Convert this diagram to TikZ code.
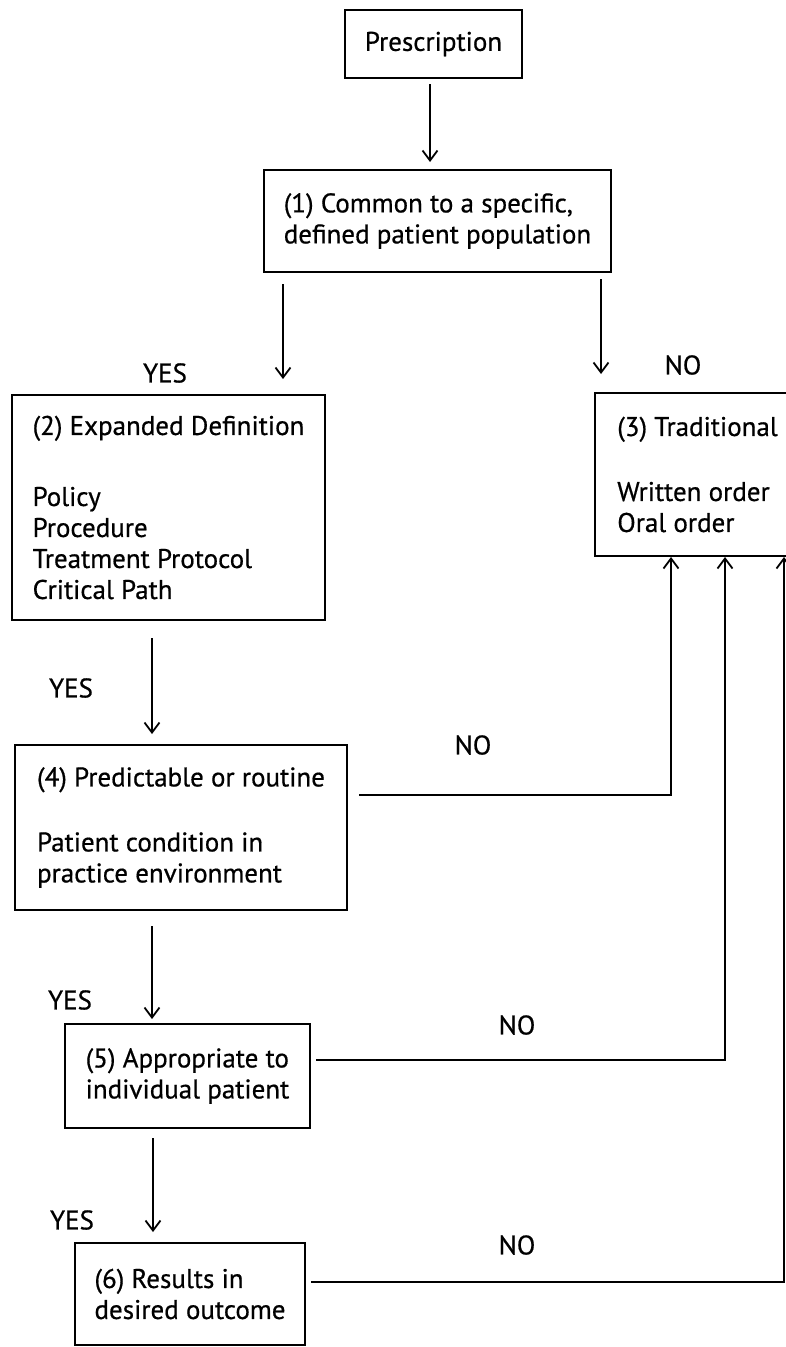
\documentclass[tikz,border=0pt]{standalone}
\usepackage{fontspec}
\setmainfont{PT Sans}[FakeBold=0.6]
\usetikzlibrary{arrows.meta}

\begin{document}
\begin{tikzpicture}[x=1pt, y=-1pt, line width=2pt,
    box/.style={draw, rectangle, align=left, inner sep=0pt, font=\fontsize{27}{31}\selectfont},
    lbl/.style={font=\fontsize{27}{31}\selectfont},
    arr/.style={-{Straight Barb[length=10pt,width=15pt,line width=1.8pt]}}]
  \useasboundingbox (0,0) rectangle (786,1347);
  \clip (0,0) rectangle (786,1347);
  \node[box, minimum width=177pt, minimum height=68pt] (pre) at (433.5,44) {Prescription};
  \node[box, minimum width=347pt, minimum height=102pt] (b1) at (437.5,221) {(1) Common to a specific,\\defined patient population};
  \node[box, minimum width=313pt, minimum height=225pt] (b2) at (168.5,507.5) {(2) Expanded Definition\\[40pt]Policy\\Procedure\\Treatment Protocol\\Critical Path};
  \node[box, minimum width=205pt, minimum height=163pt] (b3) at (697.5,474.5) {(3) Traditional\\[34pt]Written order\\Oral order};
  \node[box, minimum width=332pt, minimum height=165pt] (b4) at (181,827.5) {(4) Predictable or routine\\[34pt]Patient condition in\\practice environment};
  \node[box, minimum width=245pt, minimum height=104pt] (b5) at (187.5,1076) {(5) Appropriate to\\individual patient};
  \node[box, minimum width=230pt, minimum height=102pt] (b6) at (190,1294) {(6) Results in\\desired outcome};
  \node[lbl] (yes1) at (165,373) {YES};
  \node[lbl] (no1) at (683,365) {NO};
  \node[lbl] (yes2) at (71,688) {YES};
  \node[lbl] (no2) at (473,745) {NO};
  \node[lbl] (yes3) at (70,1000) {YES};
  \node[lbl] (no3) at (517,1025) {NO};
  \node[lbl] (yes4) at (72,1220) {YES};
  \node[lbl] (no4) at (517,1245) {NO};
  \coordinate (c0) at (430,0);
  \coordinate (c1) at (283,0);
  \coordinate (c2) at (601,0);
  \coordinate (c3) at (152,0);
  \coordinate (c4) at (153,0);
  \draw[arr, shorten <=5pt, shorten >=7pt] (pre.south -| c0) -- (b1.north -| c0);
  \draw[arr, shorten <=11pt, shorten >=15pt] (b1.south -| c1) -- (b2.north -| c1);
  \draw[arr, shorten <=6pt, shorten >=18pt] (b1.south -| c2) -- (b3.north -| c2);
  \draw[arr, shorten <=17pt, shorten >=10pt] (b2.south -| c3) -- (b4.north -| c3);
  \draw[arr, shorten <=15pt, shorten >=4pt] (b4.south -| c3) -- (b5.north -| c3);
  \draw[arr, shorten <=9pt, shorten >=10pt] (b5.south -| c4) -- (b6.north -| c4);
  \coordinate (k4) at (671,795);
  \coordinate (k5) at (725,1060);
  \coordinate (k6) at (784,1282);
  \draw[arr, shorten <=11pt] (b4.east |- k4) -- (k4) -- (k4 |- b3.south);
  \draw[arr, shorten <=5pt] (b5.east |- k5) -- (k5) -- (k5 |- b3.south);
  \draw[arr, shorten <=5pt] (b6.east |- k6) -- (k6) -- (k6 |- b3.south);
\end{tikzpicture}
\end{document}
